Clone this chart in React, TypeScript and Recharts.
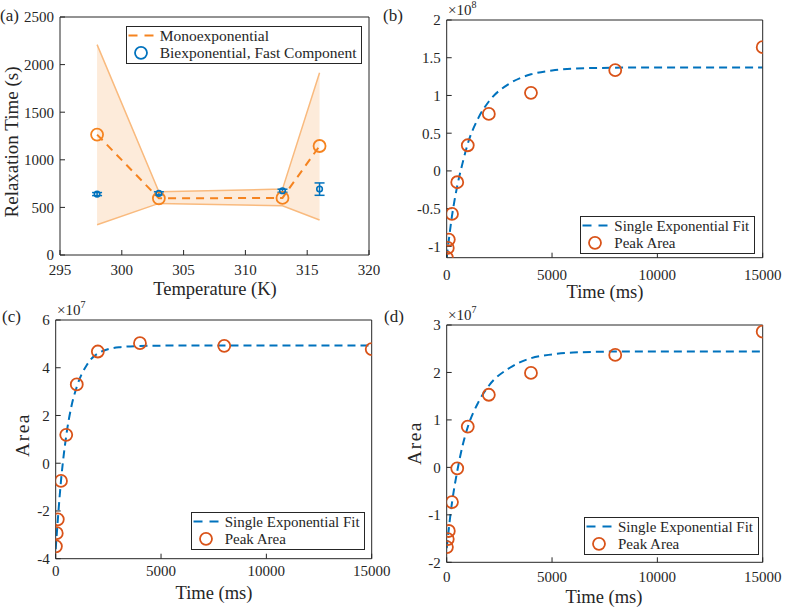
import React from 'react';
import { ComposedChart, Line, Scatter, Area, XAxis, YAxis, ErrorBar } from 'recharts';

const FONT = '"Liberation Serif", "Times New Roman", serif';
const INK = '#262626';
const ORANGE = '#F5831F';
const BAND_FILL = '#FDEBDA';
const BAND_EDGE = '#F9BA7E';
const RED = '#D95319';
const BLUE = '#0072BD';

// (a) relaxation time vs temperature
const temperatures = [298, 303, 313, 316];
const monoTau = [1265, 595, 600, 1145];
const monoUpper = [2210, 665, 692, 1915];
const monoLower = [318, 542, 518, 367];
const biFastTau = [640, 648, 675, 692];
const biFastErr = [16, 16, 16, 65];
const tempTicks = [295, 300, 305, 310, 315, 320];
const tauTicks = [0, 500, 1000, 1500, 2000, 2500];

// (b)-(d) peak area recovery, values in units of the axis multiplier
const times = [10, 50, 100, 250, 500, 1000, 2000, 4000, 8000, 15000];
const areaB = [-1.15, -1.02, -0.91, -0.57, -0.15, 0.34, 0.755, 1.035, 1.335, 1.64];
const areaC = [-3.48, -2.93, -2.35, -0.74, 1.19, 3.3, 4.68, 5.03, 4.92, 4.78];
const areaD = [-1.68, -1.51, -1.34, -0.73, -0.02, 0.86, 1.53, 1.99, 2.37, 2.86];

const fitTimes = [0, 250, 500, 750, 1000, 1500, 2000, 3000, 4000, 5000, 6000, 8000, 10000, 15000];
const fitB = [-1.15, -0.6, -0.2, 0.1, 0.36, 0.7, 0.92, 1.16, 1.28, 1.33, 1.355, 1.368, 1.372, 1.372];
const fitC = [-3.6, -0.75, 1.15, 2.4, 3.2, 4.15, 4.6, 4.86, 4.91, 4.925, 4.93, 4.93, 4.93, 4.93];
const fitD = [-1.7, -0.75, -0.08, 0.45, 0.85, 1.37, 1.72, 2.1, 2.3, 2.38, 2.42, 2.44, 2.44, 2.44];

const timeTicks = [0, 5000, 10000, 15000];
const ticksB = [-1, -0.5, 0, 0.5, 1, 1.5, 2];
const ticksC = [-4, -2, 0, 2, 4, 6];
const ticksD = [-2, -1, 0, 1, 2, 3];

const tickStyle = { fontFamily: FONT, fontSize: 15, fill: INK };

// all four sides get inward ticks (negative tickSize); top/right carry no labels.
// sizes: bottom axis 20px, left axis 40px, top/right 1px -> margins are reduced by these.
function boxAxes(xDomain: number[], xTicks: number[], yDomain: number[], yTicks: number[], xTickMargin: number) {
  return [
    <XAxis key="xb" dataKey="x" type="number" domain={xDomain} ticks={xTicks} interval={0}
      height={20} tickSize={-5} tickMargin={xTickMargin} tick={tickStyle} stroke={INK} allowDataOverflow />,
    <XAxis key="xt" xAxisId="top" orientation="top" type="number" domain={xDomain} ticks={xTicks}
      interval={0} height={1} tickSize={-5} tick={false} stroke={INK} />,
    <YAxis key="yl" type="number" domain={yDomain} ticks={yTicks} interval={0}
      width={40} tickSize={-5} tickMargin={11} tick={tickStyle} stroke={INK} allowDataOverflow />,
    <YAxis key="yr" yAxisId="right" orientation="right" type="number" domain={yDomain} ticks={yTicks}
      interval={0} width={1} tickSize={-5} tick={false} stroke={INK} />,
  ];
}

const ring = (color: string, r: number, w: number) => (p: any) =>
  <circle cx={p.cx} cy={p.cy} r={r} fill="none" stroke={color} strokeWidth={w} />;

function Txt({ x, y, size, children, rotate = false, left = false, spacing = 0 }: any) {
  const t = rotate ? 'translate(-50%,-50%) rotate(-90deg)' : left ? 'translate(0,-50%)' : 'translate(-50%,-50%)';
  return (
    <div style={{ position: 'absolute', left: x, top: y, transform: t, fontFamily: FONT, fontSize: size,
      color: INK, whiteSpace: 'nowrap', lineHeight: 1, letterSpacing: spacing }}>
      {children}
    </div>
  );
}

function Exponent({ x, y, p }: any) {
  return (
    <Txt x={x} y={y} size={15} left>
      ×10<span style={{ fontSize: 10, position: 'relative', top: -7 }}>{p}</span>
    </Txt>
  );
}

function LegendBox({ x, y, w, size, rows }: any) {
  const h = 37.5;
  const rowY = [9.5, 26.8];
  return (
    <div style={{ position: 'absolute', left: x, top: y, width: w, height: h, border: `1px solid ${INK}`,
      background: '#fff', boxSizing: 'border-box' }}>
      <svg width={w} height={h} style={{ position: 'absolute', left: -1, top: -1 }}>
        {rows.map((r: any, i: number) => r.mark === 'line'
          ? <line key={i} x1={2.5} x2={27.5} y1={rowY[i]} y2={rowY[i]} stroke={r.color} strokeWidth={2} strokeDasharray="9 7" />
          : <circle key={i} cx={15} cy={rowY[i]} r={6} fill="none" stroke={r.color} strokeWidth={1.8} />)}
      </svg>
      {rows.map((r: any, i: number) => (
        <Txt key={i} x={33} y={rowY[i] - 1} size={size} left>{r.label}</Txt>
      ))}
    </div>
  );
}

function RecoveryPanel({ left, top, width, height, margin, area, fit, yDomain, yTicks, xTickMargin }: any) {
  const points = times.map((t, i) => ({ x: t, y: area[i] }));
  const fitRows = fitTimes.map((t, i) => ({ x: t, y: fit[i] }));
  return (
    <div style={{ position: 'absolute', left, top }}>
      <ComposedChart width={width} height={height} margin={margin}>
        {boxAxes([0, 15000], timeTicks, yDomain, yTicks, xTickMargin)}
        <Line data={fitRows} dataKey="y" type="monotone" stroke={BLUE} strokeWidth={2}
          strokeDasharray="8 5" dot={false} isAnimationActive={false} />
        <Scatter data={points} dataKey="y" shape={ring(RED, 6, 1.8)} isAnimationActive={false} />
      </ComposedChart>
    </div>
  );
}

export default function App() {
  const rowsA = temperatures.map((t, i) => ({
    x: t, mono: monoTau[i], band: [monoLower[i], monoUpper[i]], bi: biFastTau[i], err: biFastErr[i],
  }));
  const fitLegend = [
    { mark: 'line', color: BLUE, label: 'Single Exponential Fit' },
    { mark: 'circle', color: RED, label: 'Peak Area' },
  ];

  return (
    <div style={{ position: 'fixed', left: 0, top: 0, width: 803, height: 609, background: '#fff', overflow: 'hidden' }}>
      {/* (a) */}
      <div style={{ position: 'absolute', left: 0, top: 0 }}>
        <ComposedChart width={400} height={300} data={rowsA} margin={{ top: 16, left: 20, right: 30, bottom: 25 }}>
          {boxAxes([295, 320], tempTicks, [0, 2500], tauTicks, 14)}
          <Area dataKey="band" type="linear" fill={BAND_FILL} fillOpacity={1} stroke={BAND_EDGE}
            strokeWidth={1.5} isAnimationActive={false} />
          <Line dataKey="mono" type="linear" stroke={ORANGE} strokeWidth={2} strokeDasharray="8 6"
            dot={false} isAnimationActive={false} />
          <Scatter data={rowsA} dataKey="mono" shape={ring(ORANGE, 6, 1.8)} isAnimationActive={false} />
          <Scatter data={rowsA} dataKey="bi" shape={ring(BLUE, 2.8, 1.6)} isAnimationActive={false}>
            <ErrorBar dataKey="err" direction="y" width={5} stroke={BLUE} strokeWidth={1.5} />
          </Scatter>
        </ComposedChart>
      </div>

      <RecoveryPanel left={400} top={0} width={403} height={300}
        margin={{ top: 19, left: 6.7, right: 39.3, bottom: 22.3 }}
        area={areaB} fit={fitB} yDomain={[-1.15, 2]} yTicks={ticksB} xTickMargin={17} />
      <RecoveryPanel left={0} top={300} width={400} height={309}
        margin={{ top: 19, left: 15.7, right: 27.3, bottom: 30.3 }}
        area={areaC} fit={fitC} yDomain={[-4, 6]} yTicks={ticksC} xTickMargin={12} />
      <RecoveryPanel left={400} top={300} width={403} height={309}
        margin={{ top: 24, left: 6.7, right: 39.3, bottom: 26.7 }}
        area={areaD} fit={fitD} yDomain={[-2, 3]} yTicks={ticksD} xTickMargin={14} />

      <LegendBox x={125.7} y={26} w={236} size={15.5} rows={[
        { mark: 'line', color: ORANGE, label: 'Monoexponential' },
        { mark: 'circle', color: BLUE, label: 'Biexponential, Fast Component' },
      ]} />
      <LegendBox x={580.3} y={216} w={175} size={15} rows={fitLegend} />
      <LegendBox x={190.7} y={512} w={174.5} size={15} rows={fitLegend} />
      <LegendBox x={584} y={517} w={175} size={15} rows={fitLegend} />

      <Txt x={0} y={15} size={17} left>(a)</Txt>
      <Txt x={383} y={15} size={17} left>(b)</Txt>
      <Txt x={2} y={316} size={17} left>(c)</Txt>
      <Txt x={384} y={316} size={17} left>(d)</Txt>

      <Exponent x={448} y={10} p={8} />
      <Exponent x={57} y={310} p={7} />
      <Exponent x={448} y={315} p={7} />

      <Txt x={215} y={289} size={18.5}>Temperature (K)</Txt>
      <Txt x={605} y={292} size={18.5}>Time (ms)</Txt>
      <Txt x={214} y={593} size={18.5}>Time (ms)</Txt>
      <Txt x={604} y={597} size={18.5}>Time (ms)</Txt>

      <Txt x={11} y={142} size={19} rotate>Relaxation Time (s)</Txt>
      <Txt x={23} y={435} size={19.5} spacing={1.5} rotate>Area</Txt>
      <Txt x={415} y={443} size={19.5} spacing={1.5} rotate>Area</Txt>
    </div>
  );
}
